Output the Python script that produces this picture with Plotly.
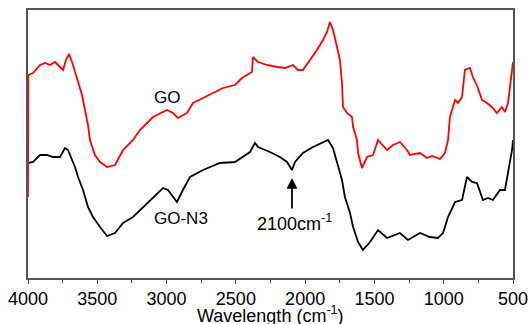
import plotly.graph_objects as go

# GO (red) spectrum: wavenumber (cm-1) and transmittance (a.u.)
go_wn = [4000, 3998, 3964, 3913, 3877, 3841, 3805, 3769, 3747, 3726, 3704, 3682, 3661, 3639, 3610,
         3589, 3567, 3553, 3517, 3480, 3430, 3372, 3314, 3242, 3192, 3098, 2997, 2954, 2918, 2853,
         2809, 2737, 2665, 2593, 2506, 2456, 2384, 2376, 2340, 2275, 2203, 2146, 2088, 2052, 2016,
         1965, 1915, 1871, 1842, 1821, 1799, 1770, 1749, 1734, 1727, 1698, 1662, 1654, 1626, 1618,
         1590, 1553, 1510, 1474, 1409, 1366, 1316, 1265, 1243, 1171, 1121, 1085, 1027, 991, 969,
         955, 918, 897, 868, 847, 811, 789, 753, 724, 688, 652, 616, 580, 558, 536, 507, 500]
go_t = [81, 203, 205, 213, 215, 213, 216, 211, 208, 218, 224, 216, 206, 198, 183,
        168, 153, 138, 123, 116, 111, 113, 128, 138, 148, 161, 168, 165, 160, 165,
        175, 180, 185, 190, 193, 200, 206, 221, 216, 213, 211, 210, 213, 208, 208,
        218, 228, 238, 246, 256, 248, 231, 218, 195, 171, 165, 161, 151, 138, 125,
        110, 121, 123, 138, 128, 133, 136, 128, 123, 125, 120, 122, 119, 125, 138,
        161, 178, 175, 181, 208, 210, 201, 190, 178, 175, 171, 165, 171, 166, 175, 205, 216]

# GO-N3 (black) spectrum
gon3_wn = [4000, 3964, 3913, 3863, 3820, 3769, 3733, 3711, 3682, 3661, 3639, 3603, 3567, 3531,
           3480, 3430, 3372, 3314, 3242, 3170, 3098, 3026, 2990, 2954, 2925, 2882, 2831, 2737,
           2615, 2506, 2398, 2362, 2340, 2254, 2182, 2131, 2095, 2073, 2016, 1943, 1871, 1835,
           1799, 1770, 1734, 1713, 1676, 1654, 1618, 1583, 1532, 1474, 1409, 1316, 1258, 1171,
           1099, 1041, 1005, 969, 918, 868, 832, 796, 760, 717, 681, 645, 594, 558, 536, 507, 500]
gon3_t = [115, 116, 123, 123, 121, 121, 130, 128, 118, 111, 101, 88, 71, 61,
          51, 42, 45, 55, 61, 71, 81, 90, 88, 81, 76, 88, 101, 108,
          115, 116, 126, 135, 131, 126, 121, 116, 108, 116, 125, 131, 136, 138,
          130, 115, 98, 81, 65, 51, 36, 28, 36, 48, 40, 45, 38, 45,
          41, 40, 45, 61, 76, 78, 101, 96, 95, 78, 80, 78, 88, 88, 105, 128, 138]

x_ticks = [4000, 3500, 3000, 2500, 2000, 1500, 1000, 500]

font_family = "Liberation Sans, Arial, sans-serif"

fig = go.Figure()
fig.add_trace(go.Scatter(x=gon3_wn, y=gon3_t, mode="lines", name="GO-N3",
                         line=dict(color="black", width=1.8)))
fig.add_trace(go.Scatter(x=go_wn, y=go_t, mode="lines", name="GO",
                         line=dict(color="#ff0000", width=1.8)))

fig.add_annotation(x=2997, y=181, text="GO", showarrow=False,
                   font=dict(size=17, color="black", family=font_family))
fig.add_annotation(x=2896, y=60, text="GO-N3", showarrow=False,
                   font=dict(size=17, color="black", family=font_family))
fig.add_annotation(x=2080, y=56, text="2100cm<sup>-1</sup>", showarrow=False,
                   font=dict(size=18, color="black", family=font_family))
fig.add_annotation(x=2095, y=100, ax=2095, ay=68, axref="x", ayref="y",
                   text="", showarrow=True, arrowhead=2, arrowsize=1.2,
                   arrowwidth=1.8, arrowcolor="black")
# x-axis title
fig.add_annotation(x=0.5, y=-0.135, xref="paper", yref="paper", yanchor="middle",
                   text="Wavelength (cm<sup>-1</sup>)", showarrow=False,
                   font=dict(size=18, color="black", family=font_family))

fig.update_layout(
    width=531, height=324,
    margin=dict(l=28, r=18, t=10, b=46),
    paper_bgcolor="white", plot_bgcolor="white",
    showlegend=False,
    font=dict(family=font_family, size=18, color="black"),
    xaxis=dict(
        range=[4000, 500], tickvals=x_ticks, ticktext=[str(v) for v in x_ticks],
        ticks="outside", ticklen=4, tickwidth=1.2, tickcolor="#444",
        minor=dict(dtick=250, ticks="outside", ticklen=3, tickcolor="#444", tick0=0),
        showline=True, mirror=True, linecolor="#555", linewidth=1.5,
        showgrid=False, zeroline=False, automargin=False,
        tickfont=dict(size=18),
    ),
    yaxis=dict(
        range=[0, 268], showticklabels=False, ticks="",
        showline=True, mirror=True, linecolor="#555", linewidth=1.5,
        showgrid=False, zeroline=False, automargin=False,
    ),
)

fig.write_html("out.html", config={"displayModeBar": False},
               post_script="document.body.style.margin='0';document.body.style.overflow='hidden';")
